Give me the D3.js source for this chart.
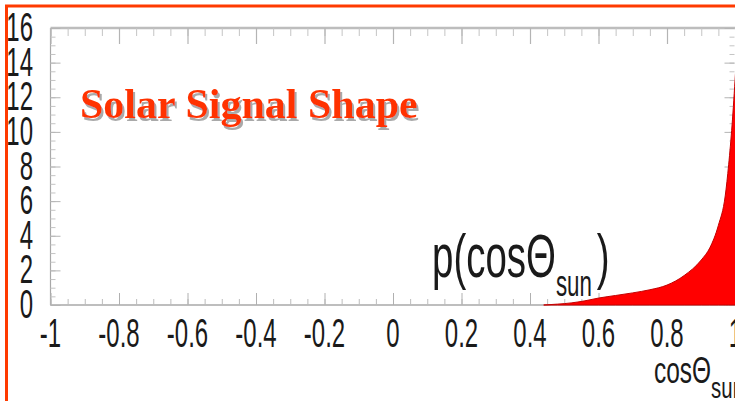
<!DOCTYPE html>
<html>
<head>
<meta charset="utf-8">
<script src="https://cdn.jsdelivr.net/npm/d3@7"></script>
<style>
  html, body { margin: 0; padding: 0; background: #fff; }
  svg { display: block; }
</style>
</head>
<body>
<svg id="chart" width="735" height="401"></svg>
<script>
// Solar signal angular distribution p(cosθ_sun)
const cosTheta = [0.44, 0.48, 0.52, 0.56, 0.60, 0.65, 0.70, 0.75, 0.80, 0.85, 0.90, 0.925, 0.95, 0.97, 0.98, 0.99, 1.00];
const density  = [0.00, 0.05, 0.12, 0.24, 0.40, 0.55, 0.70, 0.88, 1.15, 1.70, 2.60, 3.30, 4.60, 6.30, 8.10, 10.4, 13.4];

const xTickValues = [-1, -0.8, -0.6, -0.4, -0.2, 0, 0.2, 0.4, 0.6, 0.8, 1];
const xTickLabels = ["-1", "-0.8", "-0.6", "-0.4", "-0.2", "0", "0.2", "0.4", "0.6", "0.8", "1"];
const yTickValues = [0, 2, 4, 6, 8, 10, 12, 14, 16];
const yTickLabels = ["0", "2", "4", "6", "8", "10", "12", "14", "16"];

const titleText = "Solar Signal Shape";
const curveLabel = { main: "p(cosΘ", sub: "sun", close: ")" };
const axisTitle = { main: "cosΘ", sub: "sun" };

const svg = d3.select("#chart");
const W = 735, H = 401;

const x = d3.scaleLinear().domain([-1, 1]).range([50.5, 735.5]);
const y = d3.scaleLinear().domain([0, 16]).range([305, 28]);

const axisColor = "#a8a8a8";
const labelFont = "'Liberation Sans', Arial, Helvetica, sans-serif";
const squeeze = 0.6;

const defs = svg.append("defs");
defs.append("filter").attr("id", "titleShadow")
  .attr("x", "-5%").attr("y", "-20%").attr("width", "110%").attr("height", "150%")
  .append("feDropShadow")
  .attr("dx", 2).attr("dy", 3).attr("stdDeviation", 0.6)
  .attr("flood-color", "#9a9a9a").attr("flood-opacity", 0.85);

svg.append("rect").attr("width", W).attr("height", H).attr("fill", "#fff");

// frame lines
const frame = svg.append("g");
frame.append("line").attr("x1", x(-1)).attr("x2", x(1)).attr("y1", y(0)).attr("y2", y(0))
  .attr("stroke", axisColor).attr("stroke-width", 1.5);
frame.append("line").attr("x1", x(-1)).attr("x2", x(1)).attr("y1", y(16)).attr("y2", y(16))
  .attr("stroke", "#bdbdbd").attr("stroke-width", 2.5);
frame.append("line").attr("x1", x(-1)).attr("x2", x(-1)).attr("y1", y(0)).attr("y2", y(16))
  .attr("stroke", axisColor).attr("stroke-width", 1.2);

// minor / major ticks on all four sides
const xMinor = d3.range(-1, 1.0001, 0.05).map(v => +v.toFixed(2));
const yMinor = d3.range(0, 16.001, 0.5);

function tickAxis(axisGen, transform, values, size, width, color) {
  const g = svg.append("g").attr("transform", transform)
    .call(axisGen.tickValues(values).tickSizeInner(size).tickSizeOuter(0).tickFormat(""));
  g.select(".domain").remove();
  g.selectAll(".tick line").attr("stroke", color).attr("stroke-width", width);
  return g;
}
// bottom (ticks pointing up)
tickAxis(d3.axisBottom(x), `translate(0,${y(0)})`, xMinor, -6, 1, "#bcbcbc");
tickAxis(d3.axisBottom(x), `translate(0,${y(0)})`, xTickValues, -12, 1, "#b0b0b0");
// top (ticks pointing down)
tickAxis(d3.axisTop(x), `translate(0,${y(16)})`, xMinor, -8, 1, "#c4c4c4");
tickAxis(d3.axisTop(x), `translate(0,${y(16)})`, xTickValues, -16, 1.2, "#b4b4b4");
// left (ticks pointing right)
tickAxis(d3.axisLeft(y), `translate(${x(-1)},0)`, yMinor, -5, 1, "#c4c4c4");
tickAxis(d3.axisLeft(y), `translate(${x(-1)},0)`, yTickValues, -10, 1, "#b4b4b4");
// right (ticks pointing left)
tickAxis(d3.axisRight(y), `translate(${x(1) - 1},0)`, yMinor, -5, 1, "#c4c4c4");
tickAxis(d3.axisRight(y), `translate(${x(1) - 1},0)`, yTickValues, -10, 1, "#b4b4b4");

// signal shape
const area = d3.area()
  .x((d, i) => x(cosTheta[i]))
  .y0(y(0))
  .y1((d, i) => y(density[i]))
  .curve(d3.curveMonotoneX);
svg.append("path")
  .datum(density)
  .attr("d", area)
  .attr("fill", "#ff0000")
  .attr("stroke", "#c40000")
  .attr("stroke-width", 1);

// tick labels (tall, condensed)
const xl = svg.append("g");
xTickValues.forEach((v, i) => {
  xl.append("text")
    .attr("transform", `translate(${x(v)},347) scale(${squeeze},1)`)
    .attr("text-anchor", "middle")
    .attr("font-family", labelFont)
    .attr("font-size", 40)
    .attr("fill", "#1a1a1a")
    .text(xTickLabels[i]);
});
const yl = svg.append("g");
yTickValues.forEach((v, i) => {
  yl.append("text")
    .attr("transform", `translate(33,${y(v) + 13}) scale(${squeeze},1)`)
    .attr("text-anchor", "end")
    .attr("font-family", labelFont)
    .attr("font-size", 40)
    .attr("fill", "#1a1a1a")
    .text(yTickLabels[i]);
});

// curve label p(cosΘ_sun)
const pl = svg.append("text")
  .attr("transform", `translate(432,277) scale(0.62,1)`)
  .attr("font-family", labelFont)
  .attr("font-size", 62)
  .attr("fill", "#1a1a1a");
pl.append("tspan").text(curveLabel.main);
pl.append("tspan").attr("font-size", 36).attr("dy", 19).text(curveLabel.sub);
pl.append("tspan").attr("dy", -19).attr("dx", 8).text(curveLabel.close);

// x axis title cosΘ_sun
const at = svg.append("text")
  .attr("transform", `translate(654,383) scale(0.68,1)`)
  .attr("font-family", labelFont)
  .attr("font-size", 36)
  .attr("fill", "#1a1a1a");
at.append("tspan").text(axisTitle.main);
at.append("tspan").attr("font-size", 30).attr("dy", 15).text(axisTitle.sub);

// title with drop shadow
svg.append("text")
  .attr("x", 80).attr("y", 118)
  .attr("font-family", "'Liberation Serif', 'Times New Roman', serif")
  .attr("font-weight", "bold")
  .attr("font-size", 42)
  .attr("fill", "#ff3300")
  .attr("filter", "url(#titleShadow)")
  .text(titleText);

// orange slide border
svg.append("line").attr("x1", 6.5).attr("x2", 6.5).attr("y1", 5).attr("y2", H)
  .attr("stroke", "#ff3a00").attr("stroke-width", 3);
svg.append("line").attr("x1", 5).attr("x2", W).attr("y1", 6).attr("y2", 6)
  .attr("stroke", "#ff3a00").attr("stroke-width", 3);
</script>
</body>
</html>
